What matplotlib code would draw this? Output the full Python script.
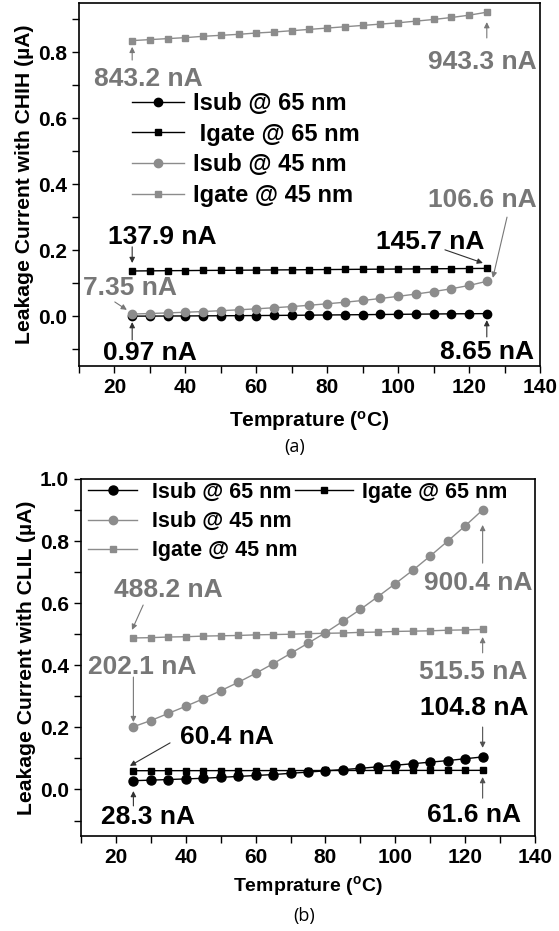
import numpy as np
import matplotlib
matplotlib.use('Agg')
import matplotlib.pyplot as plt
from matplotlib.ticker import MultipleLocator

plt.rcParams['font.family'] = ['Liberation Sans', 'DejaVu Sans']
plt.rcParams['font.weight'] = 'bold'
plt.rcParams['axes.labelweight'] = 'bold'
plt.rcParams['mathtext.fontset'] = 'custom'
plt.rcParams['mathtext.rm'] = 'Liberation Sans:bold'
plt.rcParams['mathtext.default'] = 'rm'

temp = np.arange(25, 126, 5)

# (a) CHIH, values in uA
isub65_a = [0.0010, 0.0012, 0.0014, 0.0016, 0.0019, 0.0022, 0.0025, 0.0028, 0.0032, 0.0036, 0.0040,
            0.0045, 0.0050, 0.0055, 0.0060, 0.0065, 0.0070, 0.0075, 0.0080, 0.0083, 0.0087]
igate65_a = [0.1379, 0.1383, 0.1387, 0.1391, 0.1395, 0.1398, 0.1402, 0.1406, 0.1410, 0.1414, 0.1418,
             0.1422, 0.1426, 0.1430, 0.1434, 0.1438, 0.1441, 0.1445, 0.1449, 0.1453, 0.1457]
isub45_a = [0.0074, 0.0090, 0.0108, 0.0128, 0.0150, 0.0175, 0.0202, 0.0232, 0.0265, 0.0300, 0.0340,
            0.0385, 0.0432, 0.0485, 0.0545, 0.0610, 0.0680, 0.0755, 0.0840, 0.0940, 0.1066]
igate45_a = [0.836, 0.839, 0.842, 0.845, 0.849, 0.852, 0.855, 0.859, 0.862, 0.866, 0.870,
             0.874, 0.878, 0.882, 0.886, 0.890, 0.895, 0.900, 0.906, 0.913, 0.922]

# (b) CLIL, values in uA
isub65_b = [0.0283, 0.030, 0.032, 0.034, 0.036, 0.039, 0.042, 0.045, 0.048, 0.052, 0.056,
            0.060, 0.064, 0.068, 0.073, 0.078, 0.083, 0.088, 0.093, 0.099, 0.1048]
igate65_b = [0.0604, 0.0605, 0.0605, 0.0606, 0.0606, 0.0607, 0.0608, 0.0608, 0.0609, 0.0609, 0.0610,
             0.0611, 0.0611, 0.0612, 0.0612, 0.0613, 0.0614, 0.0614, 0.0615, 0.0615, 0.0616]
isub45_b = [0.202, 0.222, 0.245, 0.268, 0.292, 0.318, 0.345, 0.374, 0.405, 0.438, 0.471,
            0.505, 0.542, 0.580, 0.621, 0.663, 0.706, 0.752, 0.800, 0.849, 0.9004]
igate45_b = [0.488, 0.489, 0.491, 0.492, 0.494, 0.495, 0.496, 0.498, 0.499, 0.500, 0.502,
             0.503, 0.504, 0.506, 0.507, 0.509, 0.510, 0.511, 0.513, 0.514, 0.5155]

BLACK = '#000000'
GRAY = '#8c8c8c'
TGRAY = '#777777'

fig = plt.figure(figsize=(5.59, 9.31), dpi=100, facecolor='w')
ax1 = fig.add_axes([0.1413, 0.6069, 0.8247, 0.3899])
ax2 = fig.add_axes([0.1449, 0.1020, 0.8122, 0.3835])


def style_axes(ax, ylim, label, xfs, xpad):
    ax.set_xlim(10, 140)
    ax.set_ylim(*ylim)
    ax.xaxis.set_major_locator(MultipleLocator(20))
    ax.xaxis.set_minor_locator(MultipleLocator(10))
    ax.yaxis.set_major_locator(MultipleLocator(0.2))
    ax.yaxis.set_minor_locator(MultipleLocator(0.1))
    ax.tick_params(which='both', direction='out', top=False, right=False, width=1)
    ax.tick_params(which='major', length=5, labelsize=15)
    ax.tick_params(which='minor', length=5)
    for s in ax.spines.values():
        s.set_linewidth(1.2)
    ax.set_ylabel(label, fontsize=15.2, labelpad=3)
    ax.set_xlabel(r'Temprature ($^{\mathrm{o}}$C)', fontsize=xfs, labelpad=xpad)


def arrow(ax, tail, tip, color):
    ax.annotate('', xy=tip, xytext=tail,
                arrowprops=dict(arrowstyle='-|>', color=color, lw=0.8, mutation_scale=8, shrinkA=0, shrinkB=0))


def label(ax, x, y, s, color):
    ax.text(x, y, s, color=color, fontsize=19, ha='center', va='center')


# ---- panel (a)
l1, = ax1.plot(temp, isub65_a, '-o', color=BLACK, ms=6, lw=1, label='Isub @ 65 nm')
l2, = ax1.plot(temp, igate65_a, '-s', color=BLACK, ms=5, lw=1, label=' Igate @ 65 nm')
l3, = ax1.plot(temp, isub45_a, '-o', color=GRAY, ms=6, lw=1, label='Isub @ 45 nm')
l4, = ax1.plot(temp, igate45_a, '-s', color=GRAY, ms=5, lw=1, label='Igate @ 45 nm')
style_axes(ax1, (-0.15, 0.95), 'Leakage Current with CHIH (\u00b5A)', 15, 9)
ax1.legend(loc='upper left', bbox_to_anchor=(0.115, 0.755), frameon=False, fontsize=17,
           handlelength=2.2, handletextpad=0.4, labelspacing=0.33, borderpad=0, borderaxespad=0)

label(ax1, 29.5, 0.720, '843.2 nA', TGRAY)
arrow(ax1, (25, 0.777), (25, 0.817), TGRAY)
label(ax1, 123.6, 0.771, '943.3 nA', TGRAY)
arrow(ax1, (125, 0.844), (125, 0.892), TGRAY)
label(ax1, 33.4, 0.241, '137.9 nA', BLACK)
arrow(ax1, (25, 0.211), (25, 0.162), '#303030')
label(ax1, 24.4, 0.086, '7.35 nA', TGRAY)
arrow(ax1, (20.1, 0.044), (23.5, 0.020), TGRAY)
label(ax1, 30.0, -0.111, '0.97 nA', BLACK)
arrow(ax1, (25, -0.071), (25, -0.017), '#303030')
label(ax1, 109.0, 0.226, '145.7 nA', BLACK)
arrow(ax1, (113.2, 0.202), (123.9, 0.162), '#303030')
label(ax1, 123.6, 0.353, '106.6 nA', TGRAY)
arrow(ax1, (130.7, 0.301), (126.7, 0.117), TGRAY)
label(ax1, 125.0, -0.108, '8.65 nA', BLACK)
arrow(ax1, (125, -0.062), (125, -0.011), '#303030')

# ---- panel (b)
m1, = ax2.plot(temp, isub65_b, '-o', color=BLACK, ms=6.5, lw=1, label='Isub @ 65 nm')
m2, = ax2.plot(temp, igate65_b, '-s', color=BLACK, ms=4, lw=1, label='Igate @ 65 nm')
m3, = ax2.plot(temp, isub45_b, '-o', color=GRAY, ms=6, lw=1, label='Isub @ 45 nm')
m4, = ax2.plot(temp, igate45_b, '-s', color=GRAY, ms=5, lw=1, label='Igate @ 45 nm')
style_axes(ax2, (-0.15, 1.0), 'Leakage Current with CLIL (\u00b5A)', 14, 5)
leg1 = ax2.legend(handles=[m1, m3, m4], loc='upper left', bbox_to_anchor=(0.015, 0.992), frameon=False,
                  fontsize=15.5, handlelength=2.3, handletextpad=0.7, labelspacing=0.38, borderpad=0,
                  borderaxespad=0)
ax2.add_artist(leg1)
ax2.legend(handles=[m2], loc='upper left', bbox_to_anchor=(0.471, 0.992), frameon=False,
           fontsize=15.5, handlelength=2.7, handletextpad=0.4, borderpad=0, borderaxespad=0)

label(ax2, 34.9, 0.642, '488.2 nA', TGRAY)
arrow(ax2, (27.8, 0.594), (24.6, 0.514), TGRAY)
label(ax2, 27.5, 0.394, '202.1 nA', TGRAY)
arrow(ax2, (25, 0.362), (25, 0.217), TGRAY)
label(ax2, 123.7, 0.665, '900.4 nA', TGRAY)
arrow(ax2, (125, 0.729), (125, 0.852), TGRAY)
label(ax2, 122.2, 0.378, '515.5 nA', TGRAY)
arrow(ax2, (125, 0.440), (125, 0.491), TGRAY)
label(ax2, 51.8, 0.169, '60.4 nA', BLACK)
arrow(ax2, (35.5, 0.150), (24.0, 0.076), '#303030')
label(ax2, 29.2, -0.089, '28.3 nA', BLACK)
arrow(ax2, (25, -0.053), (25, -0.005), '#303030')
label(ax2, 122.5, 0.262, '104.8 nA', BLACK)
arrow(ax2, (125, 0.201), (125, 0.134), '#505050')
label(ax2, 122.5, -0.082, '61.6 nA', BLACK)
arrow(ax2, (125, -0.028), (125, 0.040), '#505050')

fig.text(295 / 559, 1 - 447 / 931, '(a)', fontsize=13, fontweight='normal', family=['Open Sans', 'DejaVu Sans'],
         ha='center', va='center')
fig.text(304 / 559, 1 - 916 / 931, '(b)', fontsize=13, fontweight='normal', family=['Open Sans', 'DejaVu Sans'],
         ha='center', va='center')

fig.savefig('out.png', dpi=100)
